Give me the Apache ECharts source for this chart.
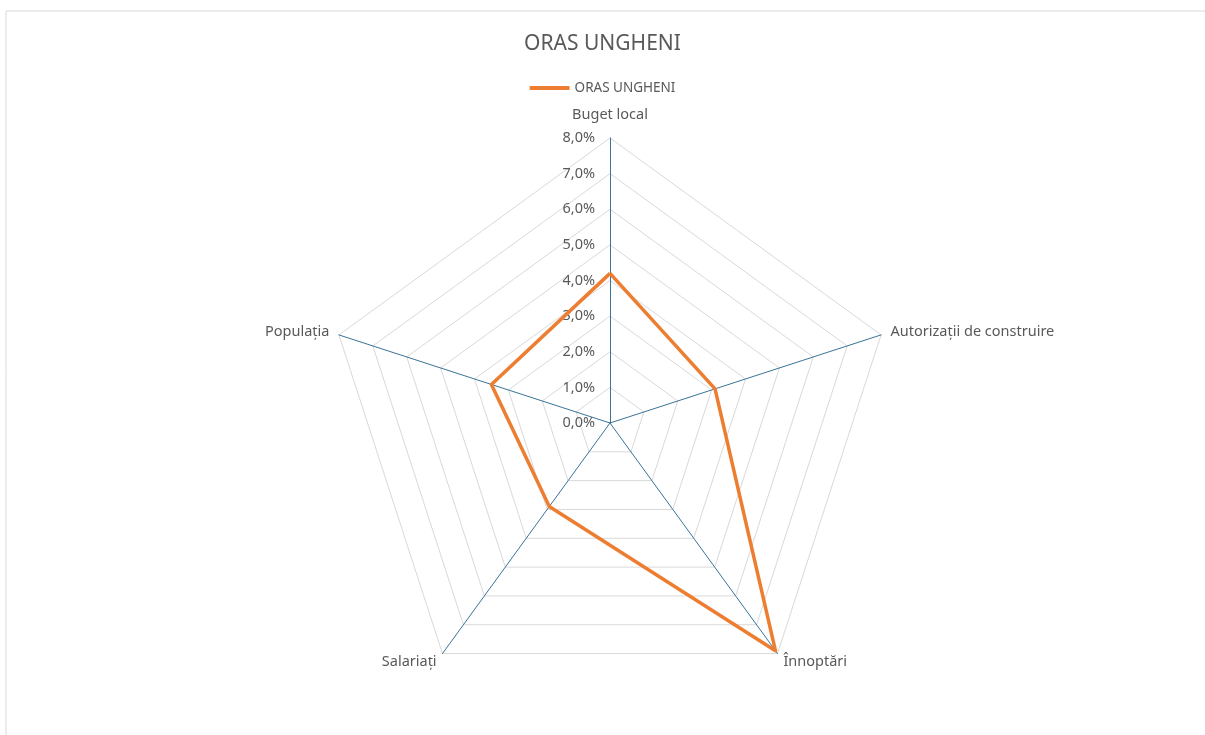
<!DOCTYPE html>
<html>
<head>
<meta charset="utf-8">
<script src="https://cdn.jsdelivr.net/npm/echarts@6/dist/echarts.min.js"></script>
<style>
  html, body { margin: 0; padding: 0; background: #fff; }
  #chart { width: 1205px; height: 735px; }
</style>
</head>
<body>
<div id="chart"></div>
<script>
// indicatori si valori (%), in ordinea din grafic (sensul acelor de ceasornic)
var indicatori = ['Buget local', 'Autorizații de construire', 'Înnoptări', 'Salariați', 'Populația'];
var valori = [4.2, 3.1, 7.9, 2.9, 3.5];
var maxVal = 8;
var titlu = 'ORAS UNGHENI';

// echarts deseneaza in sens invers, deci inversam ordinea dupa primul element
var ordine = [0, 4, 3, 2, 1];

var myChart = echarts.init(document.getElementById('chart'));

var option = {
  backgroundColor: '#fff',
  textStyle: { fontFamily: 'Noto Sans' },
  graphic: [{
    type: 'rect',
    shape: { x: 6, y: 11, width: 1220, height: 740 },
    style: { fill: 'none', stroke: '#d9d9d9', lineWidth: 1 },
    silent: true
  }],
  title: {
    text: titlu,
    left: 'center',
    top: 29,
    textStyle: { fontSize: 21, fontWeight: 'normal', color: '#595959' }
  },
  legend: {
    top: 76,
    left: 'center',
    icon: 'roundRect',
    itemWidth: 40,
    itemHeight: 4,
    itemGap: 4,
    textStyle: { fontSize: 13.5, color: '#595959' },
    data: [titlu]
  },
  radar: {
    center: [610, 423],
    radius: 285,
    startAngle: 90,
    shape: 'polygon',
    splitNumber: 8,
    axisName: { color: '#595959', fontSize: 14.5 },
    nameGap: 10,
    splitArea: { show: false },
    splitLine: { lineStyle: { color: '#d9d9d9', width: 1 } },
    axisLine: { lineStyle: { color: '#3a7398', width: 1 } },
    axisTick: { show: false },
    axisLabel: {
      show: false,
      color: '#595959',
      fontSize: 14.5,
      margin: 15,
      formatter: function (v) { return v.toFixed(1).replace('.', ',') + '%'; }
    },
    indicator: ordine.map(function (i) {
      var o = { name: indicatori[i], min: 0, max: maxVal };
      if (i === 0) { o.axisLabel = { show: true }; o.nameGap = 16; }
      return o;
    })
  },
  series: [{
    name: titlu,
    type: 'radar',
    symbol: 'none',
    lineStyle: { color: '#ED7D31', width: 3.5 },
    itemStyle: { color: '#ED7D31' },
    data: [{ name: titlu, value: ordine.map(function (i) { return valori[i]; }) }]
  }]
};

myChart.setOption(option);
</script>
</body>
</html>
